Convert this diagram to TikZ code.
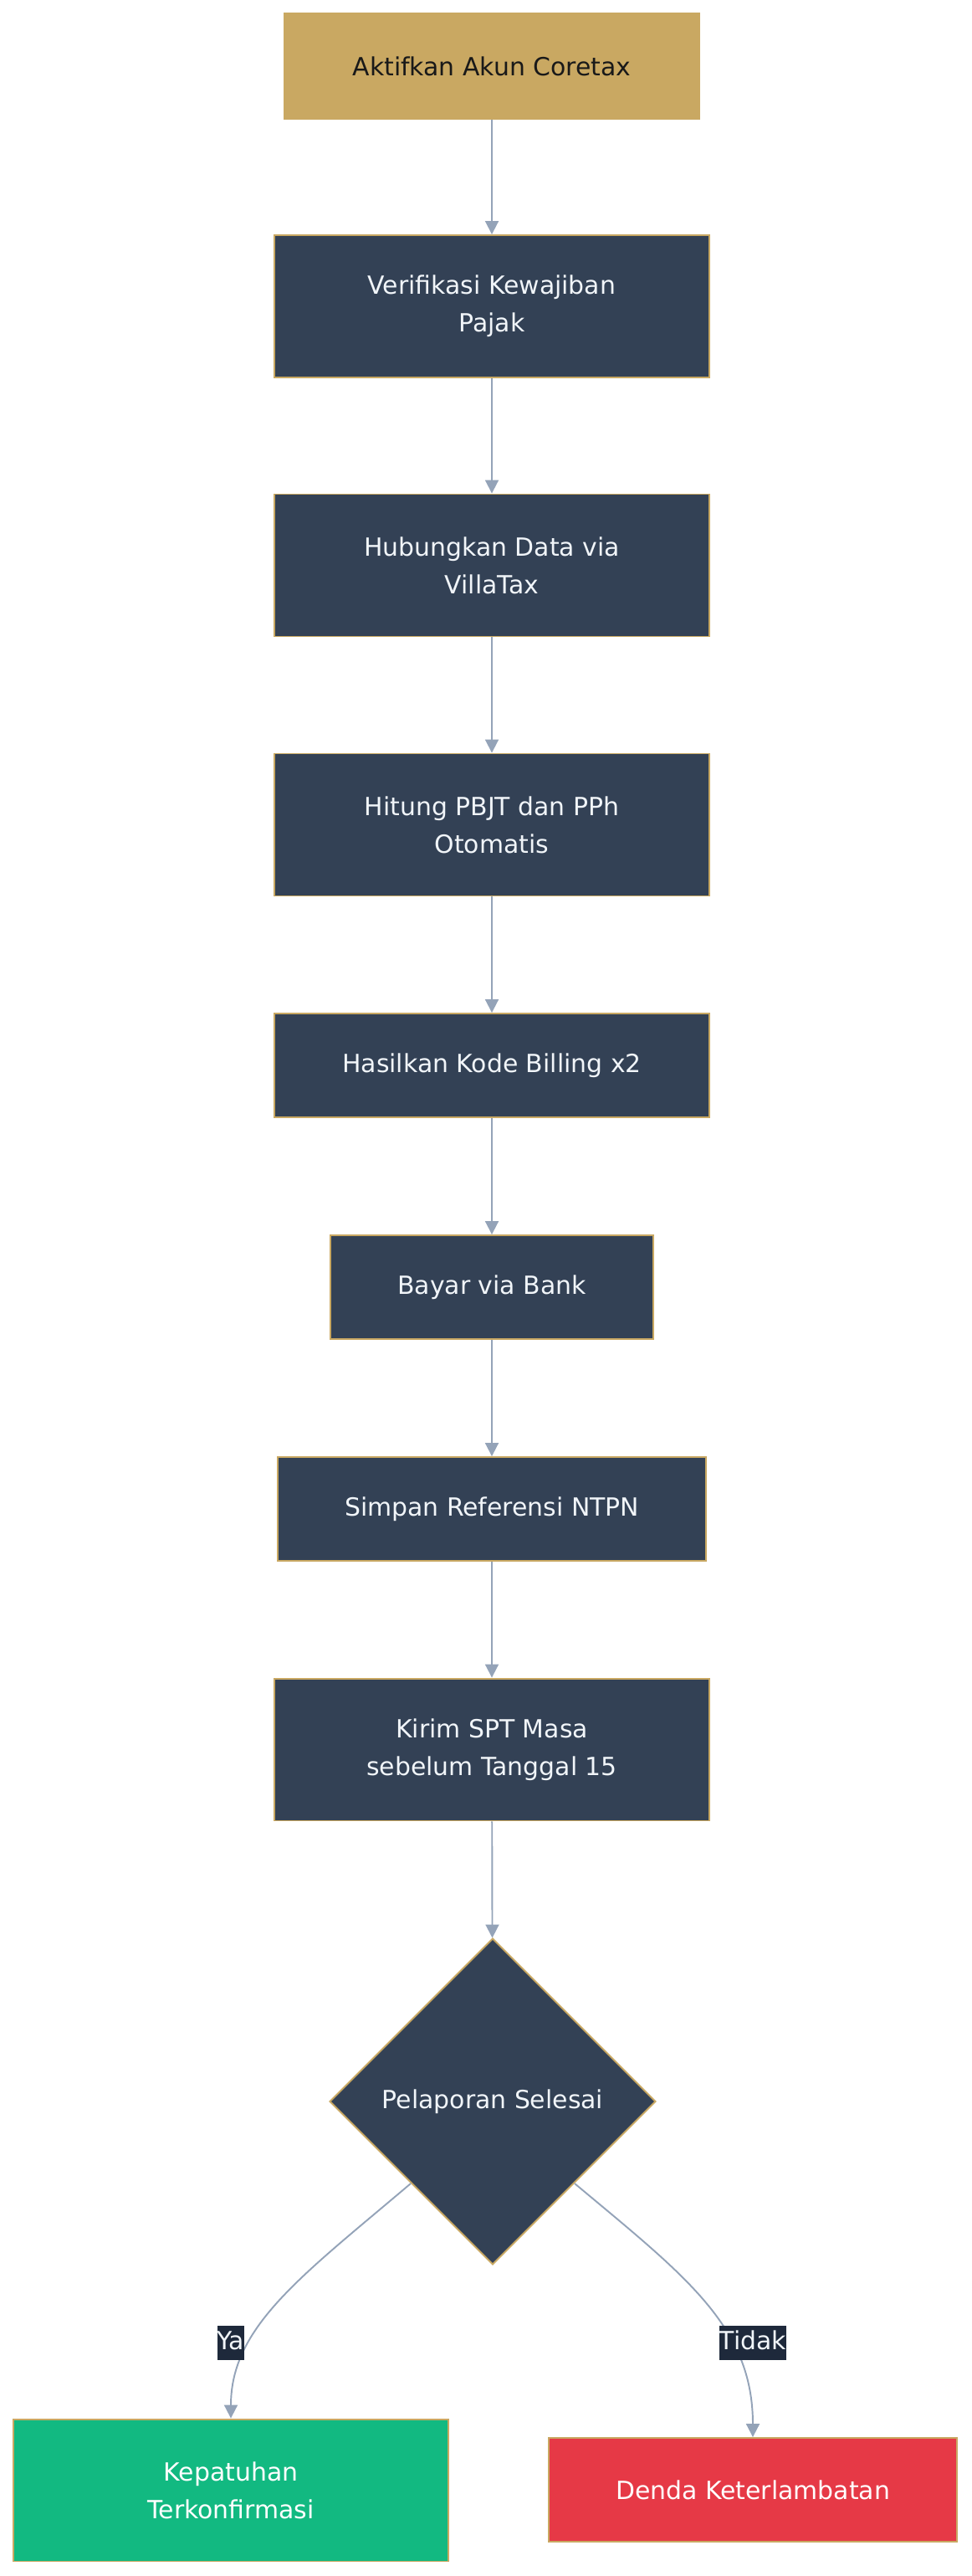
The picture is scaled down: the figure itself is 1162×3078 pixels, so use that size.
\documentclass[tikz,border=0pt]{standalone}
\usepackage{fontspec}
\setmainfont{DejaVu Sans}
\usetikzlibrary{shapes.geometric,arrows.meta}

\definecolor{gold}{HTML}{C9A862}
\definecolor{slate}{HTML}{334155}
\definecolor{edgegray}{HTML}{94A3B8}
\definecolor{okgreen}{HTML}{12B981}
\definecolor{badred}{HTML}{E63946}
\definecolor{lblbg}{HTML}{1E293B}
\definecolor{lighttext}{HTML}{F1F5F9}

\begin{document}
\begin{tikzpicture}[x=0.02cm, y=-0.02cm,
  font=\fontsize{17}{25.6}\selectfont,
  box/.style={draw=gold, line width=1.1pt, fill=slate, text=lighttext, align=center,
    inner sep=0pt, minimum width=10.4cm, minimum height=3.4cm},
  lowbox/.style={box, minimum height=2.48cm},
  arr/.style={draw=edgegray, line width=1.1pt, -{Triangle[length=0.32cm, width=0.32cm]}},
  lbl/.style={fill=lblbg, text=lighttext, inner xsep=0pt, inner ysep=0.12cm,
    text height=0.46cm, text depth=0.12cm}]

\useasboundingbox (0,0) rectangle (1162,3078);

% main column
\node[box, fill=gold, text=black!90, minimum width=9.92cm, minimum height=2.52cm] (akun) at (588,79) {Aktifkan Akun Coretax};
\node[box] (verif) at (588,366) {Verifikasi Kewajiban\\Pajak};
\node[box] (hub) at (588,675.5) {Hubungkan Data via\\VillaTax};
\node[box] (hitung) at (588,985.5) {Hitung PBJT dan PPh\\Otomatis};
\node[lowbox] (billing) at (588,1273) {Hasilkan Kode Billing x2};
\node[lowbox, minimum width=7.72cm] (bayar) at (588,1538) {Bayar via Bank};
\node[lowbox, minimum width=10.24cm] (ntpn) at (588,1803) {Simpan Referensi NTPN};
\node[box] (spt) at (588,2090.5) {Kirim SPT Masa\\sebelum Tanggal 15};
\node[box, diamond, minimum width=7.8cm, minimum height=7.8cm] (selesai) at (589,2511) {Pelaporan Selesai};

% outcomes
\node[box, fill=okgreen, text=white] (patuh) at (276,2975.5) {Kepatuhan\\Terkonfirmasi};
\node[lowbox, fill=badred, text=white, minimum width=9.76cm] (denda) at (900,2975) {Denda Keterlambatan};

\draw[arr] (akun) -- (verif);
\draw[arr] (verif) -- (hub);
\draw[arr] (hub) -- (hitung);
\draw[arr] (hitung) -- (billing);
\draw[arr] (billing) -- (bayar);
\draw[arr] (bayar) -- (ntpn);
\draw[arr] (ntpn) -- (spt);
\draw[arr] (spt) -- (selesai);

\draw[arr] (selesai.south west) .. controls (360,2720) and (276,2780) .. (patuh.north);
\draw[arr] (selesai.south east) .. controls (820,2720) and (900,2780) .. (denda.north);

\node[lbl] (ya) at (276,2799) {Ya};
\node[lbl] (tidak) at (900,2799) {Tidak};
\end{tikzpicture}
\end{document}
